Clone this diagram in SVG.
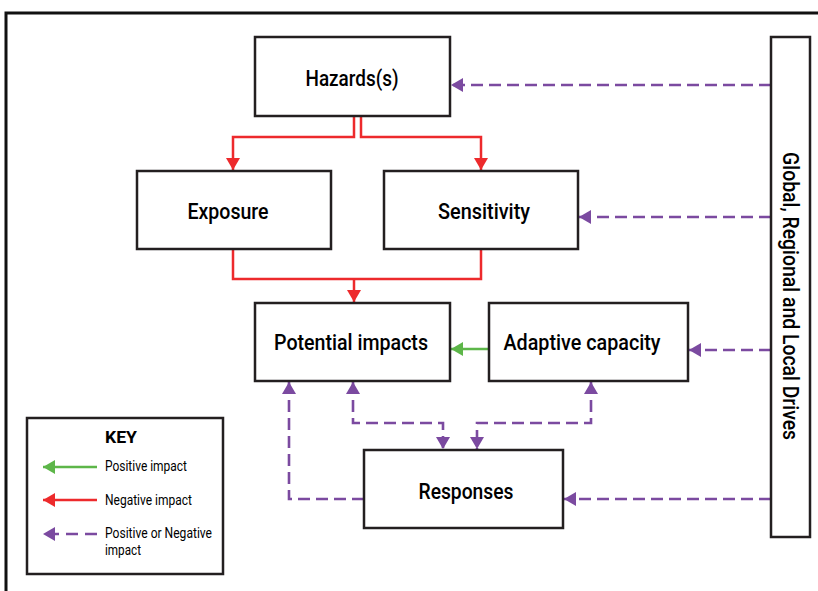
<svg xmlns="http://www.w3.org/2000/svg" width="818" height="591" viewBox="0 0 818 591">
<style>
.box{fill:#fff;stroke:#231f20;stroke-width:2.5}
.lbl{font-family:Roboto,"Liberation Sans",sans-serif;font-weight:500;font-size:21.5px;fill:#000;text-anchor:middle}
.key{font-family:Roboto,"Liberation Sans",sans-serif;font-weight:400;font-size:14px;fill:#000}
.red{fill:none;stroke:#ed2a2c;stroke-width:2.5}
.grn{fill:none;stroke:#5db649;stroke-width:2.5}
.pur{fill:none;stroke:#7b4aa0;stroke-width:2.6;stroke-dasharray:12 6}
</style>
<defs>
<marker id="ar" markerUnits="userSpaceOnUse" markerWidth="12" markerHeight="14" refX="12" refY="7" orient="auto-start-reverse" viewBox="0 0 12 14"><path d="M0,0 L12,7 L0,14 z" fill="#ed2a2c"/></marker>
<marker id="ag" markerUnits="userSpaceOnUse" markerWidth="12" markerHeight="14" refX="12" refY="7" orient="auto-start-reverse" viewBox="0 0 12 14"><path d="M0,0 L12,7 L0,14 z" fill="#5db649"/></marker>
<marker id="ap" markerUnits="userSpaceOnUse" markerWidth="12" markerHeight="14" refX="12" refY="7" orient="auto-start-reverse" viewBox="0 0 12 14"><path d="M0,0 L12,7 L0,14 z" fill="#7b4aa0"/></marker>
</defs>
<rect width="818" height="591" fill="#fff"/>
<path d="M6,591 V13 H818" fill="none" stroke="#111" stroke-width="3"/>

<g id="connectors">
<path class="red" d="M354,116 V137 H233 V170" marker-end="url(#ar)"/>
<path class="red" d="M361,116 V137 H481 V170" marker-end="url(#ar)"/>
<path class="red" d="M233,249 V279 H481 V249"/>
<path class="red" d="M354,279 V302" marker-end="url(#ar)"/>
<path class="grn" d="M489,349 H451" marker-end="url(#ag)"/>
<path class="pur" d="M771,85 H451" marker-end="url(#ap)"/>
<path class="pur" d="M771,217 H579" marker-end="url(#ap)"/>
<path class="pur" d="M771,350 H689" marker-end="url(#ap)"/>
<path class="pur" d="M771,499 H564" marker-end="url(#ap)"/>
<path class="pur" d="M364,499 H289 V382" marker-end="url(#ap)"/>
<path class="pur" d="M353,382 V423 H443 V449" marker-start="url(#ap)" marker-end="url(#ap)"/>
<path class="pur" d="M591,382 V423 H477 V449" marker-start="url(#ap)" marker-end="url(#ap)"/>
</g>

<g id="hazards"><rect class="box" x="255" y="37" width="195" height="79"/><text class="lbl" x="352" y="86" textLength="93" lengthAdjust="spacingAndGlyphs">Hazards(s)</text></g>
<g id="exposure"><rect class="box" x="137" y="171" width="194" height="78"/><text class="lbl" x="228" y="219" textLength="81" lengthAdjust="spacingAndGlyphs">Exposure</text></g>
<g id="sensitivity"><rect class="box" x="384" y="171" width="194" height="78"/><text class="lbl" x="484" y="219" textLength="92" lengthAdjust="spacingAndGlyphs">Sensitivity</text></g>
<g id="potential"><rect class="box" x="255" y="303" width="195" height="78"/><text class="lbl" x="351" y="350" textLength="154" lengthAdjust="spacingAndGlyphs">Potential impacts</text></g>
<g id="adaptive"><rect class="box" x="489" y="303" width="199" height="78"/><text class="lbl" x="582" y="350" textLength="157" lengthAdjust="spacingAndGlyphs">Adaptive capacity</text></g>
<g id="responses"><rect class="box" x="364" y="450" width="199" height="78"/><text class="lbl" x="466" y="499" textLength="95" lengthAdjust="spacingAndGlyphs">Responses</text></g>
<g id="drivers"><rect class="box" x="771" y="37" width="39" height="500"/><text class="lbl" transform="translate(783,296) rotate(90)" x="0" y="0" textLength="288" lengthAdjust="spacingAndGlyphs">Global, Regional and Local Drives</text></g>

<g id="key">
<rect class="box" x="27" y="418" width="196" height="156"/>
<text class="key" x="105" y="443" style="font-weight:700;font-size:16px" textLength="32" lengthAdjust="spacingAndGlyphs">KEY</text>
<path class="grn" d="M97,467 H43" marker-end="url(#ag)"/>
<text class="key" x="105" y="471" textLength="82" lengthAdjust="spacingAndGlyphs">Positive impact</text>
<path class="red" d="M97,500 H43" marker-end="url(#ar)"/>
<text class="key" x="105" y="505" textLength="87" lengthAdjust="spacingAndGlyphs">Negative impact</text>
<path class="pur" d="M97,534 H43" marker-end="url(#ap)" style="stroke-dasharray:12 7"/>
<text class="key" x="105" y="538" textLength="107" lengthAdjust="spacingAndGlyphs">Positive or Negative</text>
<text class="key" x="105" y="555" textLength="36" lengthAdjust="spacingAndGlyphs">impact</text>
</g>
</svg>
